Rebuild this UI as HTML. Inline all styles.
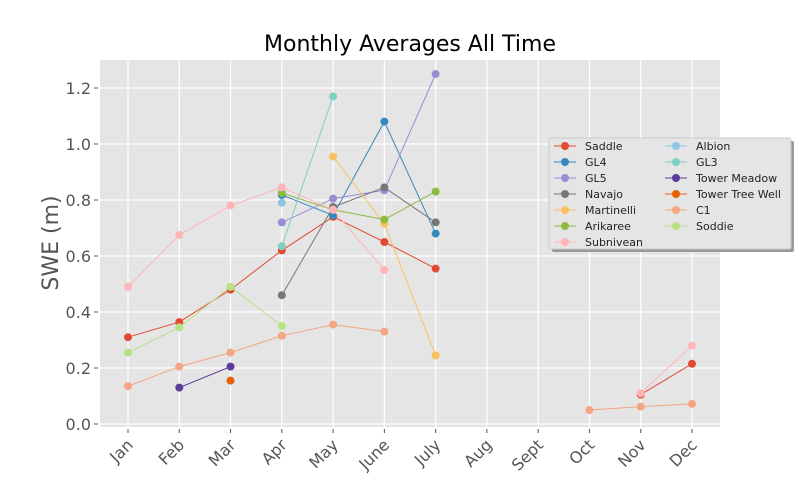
<!DOCTYPE html>
<html><head><meta charset="utf-8"><style>
body{margin:0;background:#fff;}
svg text{font-family:"DejaVu Sans","Liberation Sans",sans-serif;}
</style></head><body>
<svg id="chart" width="800" height="480" xmlns="http://www.w3.org/2000/svg">
<rect x="0" y="0" width="800" height="480" fill="#fff"/>
<text x="410" y="51" font-size="22" text-anchor="middle" fill="#000">Monthly Averages All Time</text>
<rect x="100" y="60" width="620" height="367" fill="#e5e5e5"/>
<g id="grid"></g>
<g id="series"></g>
<g id="axes"></g>
<text transform="translate(58,243) rotate(-90)" font-size="22" text-anchor="middle" fill="#555">SWE (m)</text>
<g id="legend"></g>
</svg>
<script>
const months = ["Jan","Feb","Mar","Apr","May","June","July","Aug","Sept","Oct","Nov","Dec"];
const yTicks = [0.0,0.2,0.4,0.6,0.8,1.0,1.2];
const seriesNames = ["Saddle","GL4","GL5","Navajo","Martinelli","Arikaree","Subnivean","Albion","GL3","Tower Meadow","Tower Tree Well","C1","Soddie"];
const seriesColors = ["#E24A33","#348ABD","#988ED5","#777777","#FBC15E","#8EBA42","#FFB5B8","#8fc5e2","#7fd0c0","#5e3c99","#e66101","#f4a582","#b8e186"];
const saddle = [0.31,0.364,0.48,0.62,0.74,0.65,0.555,null,null,null,0.105,0.215];
const gl4 = [null,null,null,0.818,0.745,1.08,0.68,null,null,null,null,null];
const gl5 = [null,null,null,0.72,0.805,0.835,1.25,null,null,null,null,null];
const navajo = [null,null,null,0.46,0.775,0.845,0.72,null,null,null,null,null];
const martinelli = [null,null,null,null,0.955,0.715,0.245,null,null,null,null,null];
const arikaree = [null,null,null,0.825,0.765,0.73,0.83,null,null,null,null,null];
const subnivean = [0.49,0.675,0.78,0.845,0.765,0.55,null,null,null,null,0.11,0.28];
const albion = [null,null,null,0.79,null,null,null,null,null,null,null,null];
const gl3 = [null,null,null,0.635,1.17,null,null,null,null,null,null,null];
const towerMeadow = [null,0.13,0.205,null,null,null,null,null,null,null,null,null];
const towerTreeWell = [null,null,0.155,null,null,null,null,null,null,null,null,null];
const c1 = [0.135,0.205,0.255,0.315,0.355,0.33,null,null,null,0.05,0.062,0.072];
const soddie = [0.255,0.345,0.49,0.35,null,null,null,null,null,null,null,null];
const seriesValues = [saddle,gl4,gl5,navajo,martinelli,arikaree,subnivean,albion,gl3,towerMeadow,towerTreeWell,c1,soddie];

const NS="http://www.w3.org/2000/svg";
const xScale = i => 128 + i*(692-128)/11;
const yScale = v => 424 - v*280;
function mk(tag, attrs, parent){const e=document.createElementNS(NS,tag);for(const k in attrs)e.setAttribute(k,attrs[k]);parent.appendChild(e);return e;}
const grid=document.getElementById('grid'), axes=document.getElementById('axes'), ser=document.getElementById('series'), leg=document.getElementById('legend');
yTicks.forEach(t=>{
  const y=yScale(t);
  const l=mk('line',{x1:100,x2:720,y1:y,y2:y,stroke:'#fff','stroke-width':1.2},grid);
  
  
  mk('line',{x1:94,x2:98,y1:y,y2:y,stroke:'#555'},axes);
  const tx=mk('text',{x:91,y:y+6,'font-size':16,'text-anchor':'end',fill:'#555'},axes);
  tx.textContent=t.toFixed(1);
  
  
});
months.forEach((m,i)=>{
  const x=xScale(i);
  const l=mk('line',{x1:x,x2:x,y1:60,y2:427,stroke:'#fff','stroke-width':1.2},grid);
  
  
  mk('line',{x1:x,x2:x,y1:429,y2:433,stroke:'#555'},axes);
  const tx=mk('text',{transform:`translate(${x+6},${446}) rotate(-45)`,'font-size':16,'text-anchor':'end',fill:'#555'},axes);
  tx.textContent=m;
  
  
});
seriesValues.forEach((vals,s)=>{
  const g=mk('g',{},ser);
  
  
  const c=seriesColors[s];
  let seg=[];
  const flush=()=>{if(seg.length>1)mk('polyline',{points:seg.join(' '),fill:'none',stroke:c,'stroke-width':1},g);seg=[];};
  vals.forEach((v,i)=>{if(v===null){flush();}else seg.push(xScale(i)+','+yScale(v));});
  flush();
  vals.forEach((v,i)=>{if(v!==null){
    const p=mk('circle',{cx:xScale(i),cy:yScale(v),r:4,fill:c},g);
    
    
  }});
});
// legend
mk('rect',{x:552,y:141,width:242,height:111,fill:'#999',rx:2},leg);
const box=mk('rect',{x:549,y:138,width:242,height:111,fill:'#e5e5e5',stroke:'#ccc',rx:2},leg);


seriesNames.forEach((n,s)=>{
  const col=s<7?0:1, row=s<7?s:s-7;
  const x=col?665:554, y=146+row*16;
  const g=mk('g',{},leg);
  
  
  mk('line',{x1:x,x2:x+22,y1:y,y2:y,stroke:seriesColors[s],'stroke-width':1},g);
  mk('circle',{cx:x+11,cy:y,r:4,fill:seriesColors[s]},g);
  const t=mk('text',{x:x+31,y:y+4,'font-size':11,fill:'#222'},g);
  t.textContent=n;
});
</script>
</body></html>
